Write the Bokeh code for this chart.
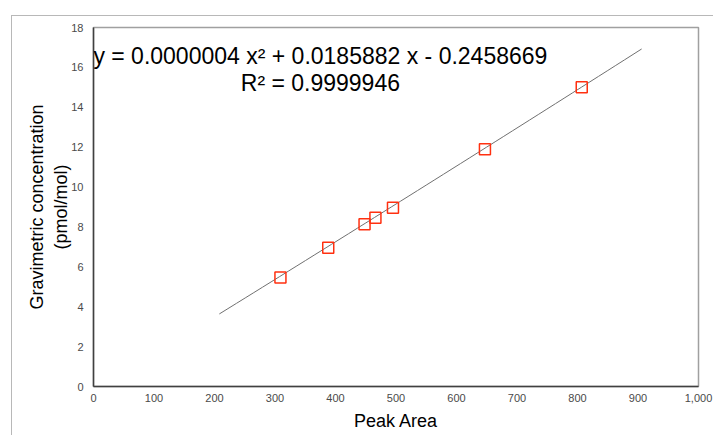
from bokeh.plotting import figure
from bokeh.models import (FixedTicker, NumeralTickFormatter, Label, LinearAxis,
                          ColumnDataSource, Range1d)
from bokeh.embed import file_html
from bokeh.resources import INLINE

# data
peak_area = [309, 388, 448, 466, 495, 647, 807]
concentration = [5.47, 6.96, 8.14, 8.46, 8.96, 11.89, 15.01]

# trendline coefficients (from equation shown)
coef_a, coef_b, coef_c = 0.0000004, 0.0185882, -0.2458669
trend_start, trend_end = 208, 906

x_ticks = [0, 100, 200, 300, 400, 500, 600, 700, 800, 900, 1000]
y_ticks = [0, 2, 4, 6, 8, 10, 12, 14, 16, 18]

eq_text = "y = 0.0000004 x\u00b2 + 0.0185882 x - 0.2458669"
r2_text = "R\u00b2 = 0.9999946"
x_title = "Peak Area"
y_title_1 = "Gravimetric concentration"
y_title_2 = "(pmol/mol)"

FONT = "Liberation Sans"

p = figure(width=702, height=420, output_backend="svg", toolbar_location=None,
           x_range=Range1d(0, 1000), y_range=Range1d(0, 18),
           min_border_left=81, min_border_right=16, min_border_top=11, min_border_bottom=50)
p.styles = {"border-top": "1.5px solid #b8b8b8", "border-left": "1.5px solid #b8b8b8",
            "margin-left": "11px", "margin-top": "15px"}

p.background_fill_color = "white"
p.border_fill_color = "white"
p.outline_line_color = "#a0a0a0"
p.outline_line_width = 1.5
p.grid.visible = False

for ax in (p.xaxis, p.yaxis):
    ax.axis_line_color = "#404040"
    ax.axis_line_width = 1.5
    ax.major_tick_line_color = None
    ax.minor_tick_line_color = None
    ax.major_tick_in = 0
    ax.major_tick_out = 0
    ax.minor_tick_in = 0
    ax.minor_tick_out = 0
    ax.major_label_text_font = FONT
    ax.major_label_text_font_size = "11px"
    ax.major_label_text_color = "#4a4a4a"
    ax.axis_label_text_font = FONT
    ax.axis_label_text_font_size = "18px"
    ax.axis_label_text_font_style = "normal"
    ax.axis_label_text_color = "black"

p.xaxis.ticker = FixedTicker(ticks=x_ticks)
p.yaxis.ticker = FixedTicker(ticks=y_ticks)
p.xaxis.formatter = NumeralTickFormatter(format="0,0")
p.xaxis.major_label_standoff = 7
p.yaxis.major_label_standoff = 10
p.xaxis.axis_label = x_title
p.xaxis.axis_label_standoff = 6
p.yaxis.axis_label = y_title_2
p.yaxis.axis_label_standoff = -3

extra = LinearAxis(axis_label=y_title_1, ticker=FixedTicker(ticks=[]),
                   axis_line_color=None, major_tick_line_color=None,
                   minor_tick_line_color=None, major_label_text_font_size="0px",
                   major_tick_in=0, major_tick_out=0, minor_tick_in=0, minor_tick_out=0,
                   major_label_standoff=0, axis_label_standoff=2,
                   axis_label_text_font=FONT, axis_label_text_font_size="18px",
                   axis_label_text_font_style="normal", axis_label_text_color="black")
p.add_layout(extra, "left")

# trendline
n = 50
tx = [trend_start + (trend_end - trend_start) * i / (n - 1) for i in range(n)]
ty = [coef_a * x * x + coef_b * x + coef_c for x in tx]
p.line(tx, ty, line_color="#707070", line_width=1)

src = ColumnDataSource(dict(x=peak_area, y=concentration))
p.scatter("x", "y", source=src, marker="square", size=11, fill_color=None,
          line_color="#ff3010", line_width=1.5)

p.add_layout(Label(x=375, y=16.55, text=eq_text, text_font=FONT, text_font_size="23px",
                   text_align="center", text_baseline="middle", text_color="black"))
p.add_layout(Label(x=375, y=15.2, text=r2_text, text_font=FONT, text_font_size="23px",
                   text_align="center", text_baseline="middle", text_color="black"))

open("out.html", "w").write(file_html(p, INLINE))
